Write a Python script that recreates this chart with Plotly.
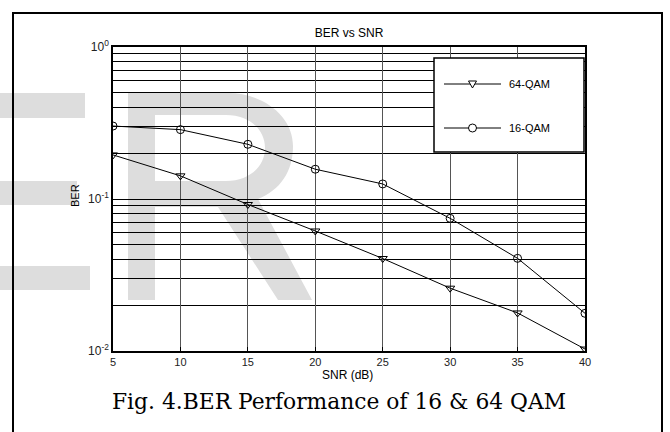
import plotly.graph_objects as go

# ---------------- data ----------------
snr_db = [5, 10, 15, 20, 25, 30, 35, 40]
ber_64qam = [0.195, 0.142, 0.092, 0.0616, 0.0406, 0.0259, 0.0178, 0.0103]
ber_16qam = [0.302, 0.286, 0.229, 0.157, 0.1256, 0.0746, 0.0407, 0.0177]
series_names = ["64-QAM", "16-QAM"]
x_ticks = [5, 10, 15, 20, 25, 30, 35, 40]
y_ticks = [0.01, 0.1, 1]
y_ticktext = ["10<sup>-2</sup>", "10<sup>-1</sup>", "10<sup>0</sup>"]
y_minor = [m * d for d in (0.01, 0.1) for m in range(2, 10)]

# ---------------- geometry ----------------
W, H = 670, 432
L, R, T, B = 113, 585, 47, 351


def px(x):
    return (x - L) / (R - L)


def py(y):
    return (B - y) / (B - T)


FONT = "Liberation Sans, Arial, sans-serif"
GRAY = "#dddddd"

fig = go.Figure()
fig.add_trace(go.Scatter(
    x=snr_db, y=ber_64qam, name=series_names[0], mode="lines+markers",
    line=dict(color="black", width=1),
    marker=dict(symbol="triangle-down-open", size=8, color="black", line=dict(width=1)),
    showlegend=False))
fig.add_trace(go.Scatter(
    x=snr_db, y=ber_16qam, name=series_names[1], mode="lines+markers",
    line=dict(color="black", width=1),
    marker=dict(symbol="circle-open", size=8, color="black", line=dict(width=1)),
    showlegend=False))

shapes = []
# watermark "E" arms (left) and "R"
for (x0, y0, x1, y1) in [(-5, 93, 85, 118), (-5, 181, 77, 205), (-5, 266, 90, 290)]:
    shapes.append(dict(type="rect", xref="paper", yref="paper",
                       x0=px(x0), x1=px(x1), y0=py(y1), y1=py(y0),
                       fillcolor=GRAY, line=dict(width=0), layer="below"))


def P(x, y):
    return f"{px(x):.5f},{py(y):.5f}"


r_outer = (
    f"M{P(128,93)} L{P(228,93)} "
    f"C{P(263,93)} {P(293,116)} {P(293,146)} "
    f"C{P(293,172)} {P(280,190)} {P(258,199)} "
    f"L{P(312,300)} L{P(278,300)} L{P(218,207)} L{P(155,207)} "
    f"L{P(155,300)} L{P(128,300)} Z "
    f"M{P(155,115)} L{P(155,181)} L{P(226,181)} "
    f"C{P(250,181)} {P(265,166)} {P(265,148)} "
    f"C{P(265,130)} {P(250,115)} {P(226,115)} Z"
)
shapes.append(dict(type="path", xref="paper", yref="paper", path=r_outer,
                   fillcolor=GRAY, line=dict(width=0), layer="below"))

# outer border of the figure
shapes.append(dict(type="path", xref="paper", yref="paper",
                   path=f"M{P(13,445)} L{P(13,13)} L{P(662,13)} L{P(662,445)}",
                   line=dict(color="black", width=2), layer="above"))

# legend box
shapes.append(dict(type="rect", xref="paper", yref="paper",
                   x0=px(434), x1=px(584), y0=py(152), y1=py(58),
                   fillcolor="white", line=dict(color="black", width=1.5), layer="above"))
leg_y = [84, 128]
for yy in leg_y:
    shapes.append(dict(type="line", xref="paper", yref="paper",
                       x0=px(444), x1=px(501), y0=py(yy), y1=py(yy),
                       line=dict(color="black", width=1), layer="above"))
# legend markers
shapes.append(dict(type="path", xref="paper", yref="paper",
                   path=f"M{P(468.5,81)} L{P(476.5,81)} L{P(472.5,88)} Z",
                   fillcolor="white", line=dict(color="black", width=1), layer="above"))
shapes.append(dict(type="circle", xref="paper", yref="paper",
                   x0=px(468.5), x1=px(476.5), y0=py(132), y1=py(124),
                   fillcolor="white", line=dict(color="black", width=1), layer="above"))

annotations = []
for name, yy in zip(series_names, leg_y):
    annotations.append(dict(text=name, xref="paper", yref="paper", x=px(507), y=py(yy),
                            xanchor="left", yanchor="middle", showarrow=False,
                            font=dict(family=FONT, size=11, color="black")))
annotations.append(dict(text="Fig. 4.BER Performance of 16 & 64 QAM",
                        xref="paper", yref="paper", x=px(339), y=py(401),
                        xanchor="center", yanchor="middle", showarrow=False,
                        font=dict(family="DejaVu Serif, serif", size=21.8, color="black")))
annotations.append(dict(text="BER", xref="paper", yref="paper", x=px(75), y=py(196),
                        xanchor="center", yanchor="middle", showarrow=False, textangle=-90,
                        font=dict(family=FONT, size=11, color="black")))
annotations.append(dict(text="SNR (dB)", xref="paper", yref="paper", x=px(347), y=py(375),
                        xanchor="center", yanchor="middle", showarrow=False,
                        font=dict(family=FONT, size=12, color="black")))

fig.update_layout(
    width=W, height=H,
    margin=dict(l=L, r=W - R, t=T, b=H - B, pad=0),
    paper_bgcolor="white", plot_bgcolor="white",
    title=dict(text="BER vs SNR", x=px(349), xref="paper", xanchor="center",
               y=(H - 33) / H, yref="container", yanchor="middle",
               font=dict(family=FONT, size=12, color="black")),
    shapes=shapes, annotations=annotations, showlegend=False,
    font=dict(family=FONT, size=11, color="black"),
)
fig.update_xaxes(
    range=[5, 40], tickmode="array", tickvals=x_ticks,
    showgrid=True, gridcolor="#555555", gridwidth=1, zeroline=False,
    showline=True, linecolor="black", linewidth=1.5, mirror=True,
    ticks="inside", ticklen=4, tickcolor="black",
    tickfont=dict(family=FONT, size=11, color="#222222"),
)
fig.update_yaxes(
    type="log", range=[-2, 0], tickmode="array", tickvals=y_ticks, ticktext=y_ticktext,
    showgrid=True, gridcolor="black", gridwidth=1, zeroline=False,
    showline=True, linecolor="black", linewidth=1.5, mirror=True,
    ticks="inside", ticklen=5, tickcolor="black",
    tickfont=dict(family=FONT, size=12, color="#222222"),
    minor=dict(tickmode="array", tickvals=y_minor, showgrid=True, gridcolor="black",
               gridwidth=1, ticks="inside", ticklen=3, tickcolor="black"),
)

fig.write_html("out.html", config={"displayModeBar": False},
               post_script="document.body.style.margin='0';")
